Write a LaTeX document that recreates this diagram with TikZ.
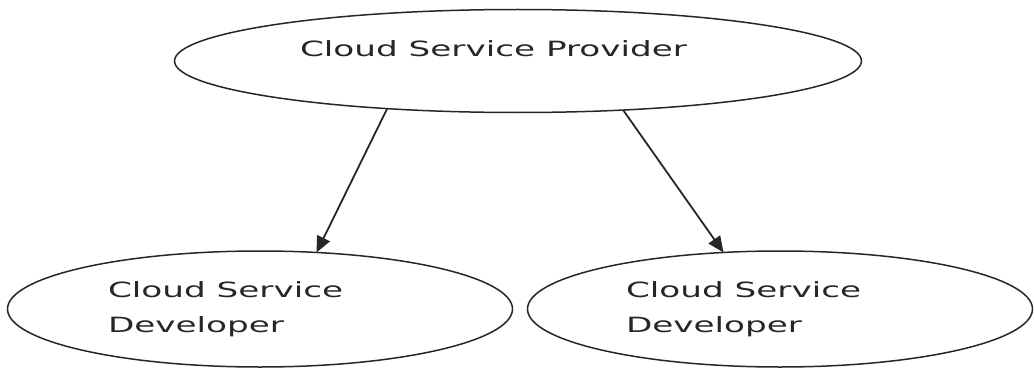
\documentclass[tikz,border=0pt]{standalone}
\usepackage{fontspec}
\setmainfont{DejaVu Sans}
\usetikzlibrary{shapes.geometric,arrows.meta}
\newcommand{\widetext}[1]{\scalebox{1.63}[1]{#1}}
\begin{document}
\begin{tikzpicture}[x=1pt,y=-1pt,
  oval/.style={ellipse,draw=black!85,line width=1.5pt,inner sep=0pt,outer sep=0pt},
  label/.style={inner sep=0pt,outer sep=0pt,anchor=north west,align=left,text=black!85,
    font=\fontsize{21}{35}\selectfont},
  link/.style={line width=1.8pt,draw=black!85,-{Triangle[length=16pt,width=14pt]}}]
\useasboundingbox (0,0) rectangle (1034,369);
\node[oval,minimum width=687pt,minimum height=103pt] (prov) at (518,61) {};
\node[oval,minimum width=505pt,minimum height=116pt] (dev1) at (260,309) {};
\node[oval,minimum width=505pt,minimum height=116pt] (dev2) at (780,309) {};
\node[label] (tprov) at (300,41) {\widetext{Cloud Service Provider}};
\node[label] (tdev1) at (108,282) {\widetext{Cloud Service}\\\widetext{Developer}};
\node[label] (tdev2) at (626,282) {\widetext{Cloud Service}\\\widetext{Developer}};
\draw[link] (prov.200.6) -- (dev1.45);
\draw[link] (prov.335.6) -- (dev2.135);
\end{tikzpicture}
\end{document}
